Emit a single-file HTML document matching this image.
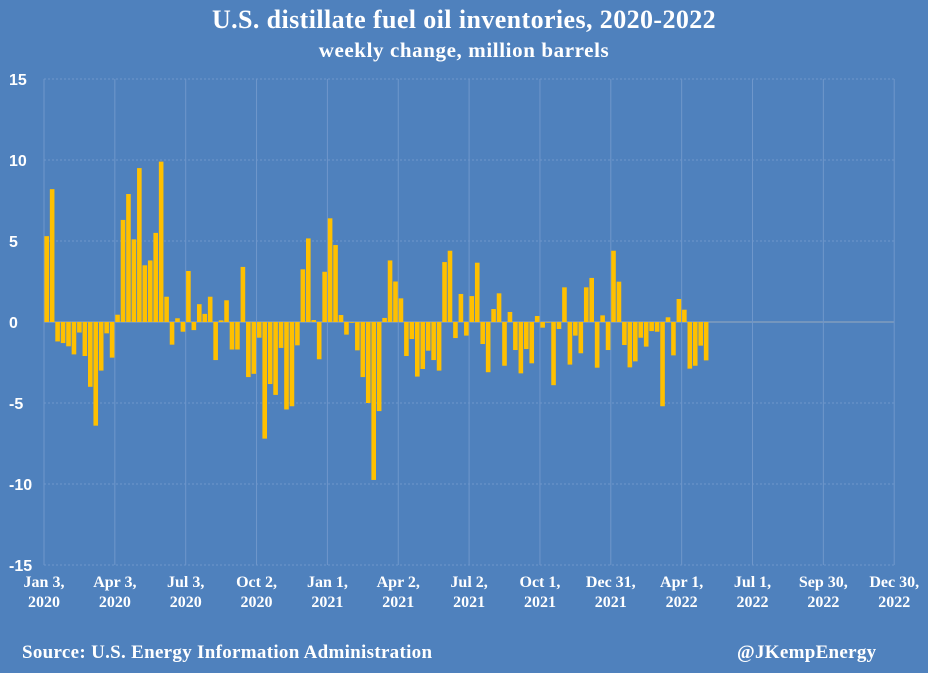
<!DOCTYPE html>
<html><head><meta charset="utf-8">
<style>
html,body{margin:0;padding:0;}
body{width:928px;height:673px;background:#4f81bd;overflow:hidden;font-family:"Liberation Serif",serif;color:#fff;position:relative;}
.t{position:absolute;left:0;width:928px;text-align:center;font-weight:bold;}
</style></head>
<body>
<div class="t" style="top:5px;font-size:26px;letter-spacing:0.4px;">U.S. distillate fuel oil inventories, 2020-2022</div>
<div class="t" style="top:38px;font-size:21px;letter-spacing:0.6px;">weekly change, million barrels</div>
<svg id="chart" width="928" height="673" style="position:absolute;left:0;top:0;"></svg>
<div style="position:absolute;left:22px;top:642px;font-size:19px;font-weight:bold;letter-spacing:0.3px;">Source: U.S. Energy Information Administration</div>
<div style="position:absolute;left:737px;top:642px;font-size:19px;font-weight:bold;letter-spacing:0.3px;">@JKempEnergy</div>
<script>
const values=[5.3,8.2,-1.2,-1.3,-1.5,-2.0,-0.65,-2.1,-4.0,-6.4,-3.0,-0.7,-2.2,0.45,6.3,7.9,5.1,9.5,3.5,3.8,5.5,9.9,1.56,-1.4,0.23,-0.6,3.15,-0.5,1.1,0.5,1.56,-2.35,0.1,1.34,-1.7,-1.7,3.4,-3.4,-3.2,-0.97,-7.2,-3.83,-4.5,-1.6,-5.4,-5.2,-1.44,3.25,5.16,0.12,-2.3,3.1,6.4,4.75,0.43,-0.78,-0.05,-1.75,-3.4,-5.0,-9.75,-5.5,0.25,3.8,2.5,1.46,-2.1,-1.05,-3.37,-2.9,-1.77,-2.35,-3.0,3.7,4.4,-0.99,1.73,-0.84,1.6,3.66,-1.36,-3.1,0.8,1.77,-2.7,0.62,-1.73,-3.17,-1.67,-2.55,0.37,-0.35,-0.04,-3.9,-0.43,2.14,-2.63,-0.84,-1.93,2.14,2.72,-2.82,0.41,-1.73,4.4,2.49,-1.42,-2.8,-2.43,-0.97,-1.52,-0.56,-0.6,-5.2,0.29,-2.06,1.42,0.76,-2.88,-2.7,-1.46,-2.37];
const xTickLabels=[["Jan 3,","2020"],["Apr 3,","2020"],["Jul 3,","2020"],["Oct 2,","2020"],["Jan 1,","2021"],["Apr 2,","2021"],["Jul 2,","2021"],["Oct 1,","2021"],["Dec 31,","2021"],["Apr 1,","2022"],["Jul 1,","2022"],["Sep 30,","2022"],["Dec 30,","2022"]];
const yTicks=[15,10,5,0,-5,-10,-15];
const weeksPerTick=13;
const NS="http://www.w3.org/2000/svg";
const svg=document.getElementById('chart');
const X0=44,WK=5.45,Y0=322,PU=16.2;
const xs=i=>X0+i*WK;
const ys=v=>Y0-v*PU;
function mk(tag,attrs){const e=document.createElementNS(NS,tag);for(const k in attrs)e.setAttribute(k,attrs[k]);svg.appendChild(e);return e;}
yTicks.forEach(v=>{
  const l=mk('line',{x1:X0,x2:xs(156),y1:ys(v),y2:ys(v),stroke:v===0?'#9aaabf':'#6f97cb','stroke-width':1,'stroke-dasharray':v===0?'':'2,2'});
  
  
  const t=mk('text',{x:9,y:ys(v)+6,fill:'#fff','font-family':'Liberation Sans, sans-serif','font-weight':'bold','font-size':'16'});
  t.textContent=v;
  
  
});
xTickLabels.forEach((lab,k)=>{
  const x=xs(k*weeksPerTick);
  const l=mk('line',{x1:x,x2:x,y1:ys(15),y2:ys(-15),stroke:'#6f97cb','stroke-width':1});
  
  
  lab.forEach((s,j)=>{
    const t=mk('text',{x:x,y:587+j*20,fill:'#fff','text-anchor':'middle','font-family':'Liberation Serif, serif','font-weight':'bold','font-size':'16'});
    t.textContent=s;
    
    
  });
});
values.forEach((v,i)=>{
  const y=Math.min(ys(v),Y0),h=Math.abs(ys(v)-Y0);
  const r=mk('rect',{x:xs(i)+0.4,y:y,width:4.6,height:Math.max(h,0.5),fill:'#ffc000'});
  
  
});
</script>
</body></html>
